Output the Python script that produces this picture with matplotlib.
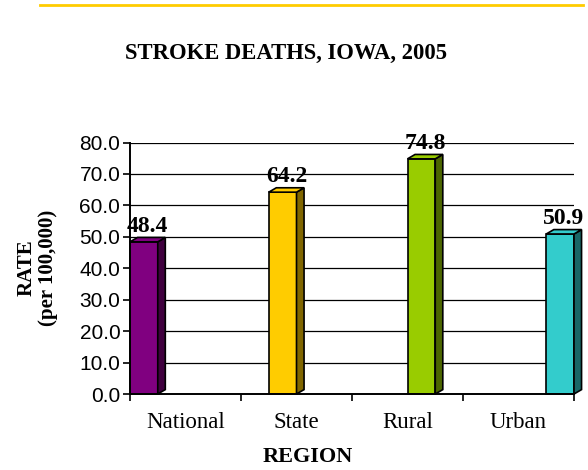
import matplotlib
matplotlib.use("Agg")
import matplotlib.pyplot as plt
from matplotlib.patches import Polygon, Rectangle
from matplotlib.lines import Line2D

# Chart data
regions = ["National", "State", "Rural", "Urban"]
rates = [48.4, 64.2, 74.8, 50.9]
front_colors = ["#800080", "#FFCC00", "#99CC00", "#33CCCC"]
side_colors = ["#40003F", "#806600", "#4C6600", "#196666"]
y_ticks = [0, 10, 20, 30, 40, 50, 60, 70, 80]


def draw_bar_3d(ax, x, w, h, front, side, dx, dy):
    """Excel-style bar with a little depth: front, side and top faces."""
    ax.add_patch(Rectangle((x, 0), w, h, facecolor=front, edgecolor="black",
                           linewidth=1.2, zorder=3, clip_on=False))
    ax.add_patch(Polygon([(x + w, 0), (x + w + dx, dy), (x + w + dx, h + dy), (x + w, h)],
                         closed=True, facecolor=side, edgecolor="black",
                         linewidth=1.2, zorder=3, clip_on=False))
    ax.add_patch(Polygon([(x, h), (x + dx, h + dy), (x + w + dx, h + dy), (x + w, h)],
                         closed=True, facecolor=front, edgecolor="black",
                         linewidth=1.2, zorder=3, clip_on=False))


def make_chart():
    fig = plt.figure(figsize=(5.88, 4.70), dpi=100)
    ax = fig.add_axes([0.2211, 0.1617, 0.7551, 0.5351])

    # yellow rule at the very top
    fig.add_artist(Line2D([40 / 588, 583 / 588], [0.989, 0.989], color="#FFCC00",
                          linewidth=2.0, transform=fig.transFigure))

    n = len(regions)
    slot = 1.0 / n  # clustered bars, one series per category
    dx = 0.068
    dy = 1.4

    ax.set_xlim(-0.5, n - 0.5)
    ax.set_ylim(0, 80)

    for i, (v, fc, sc) in enumerate(zip(rates, front_colors, side_colors)):
        x0 = i - 0.5 + slot * i
        draw_bar_3d(ax, x0, slot, v, fc, sc, dx, dy)
        ax.text(x0 + slot / 2 + dx / 2, v + dy + 0.2, f"{v:.1f}", ha="center", va="bottom",
                fontsize=17, fontweight="bold", family="Liberation Serif", zorder=4,
                clip_on=False)

    # gridlines
    for t in y_ticks[1:]:
        ax.axhline(t, color="black", linewidth=0.9, zorder=1)

    ax.set_yticks(y_ticks)
    ax.set_yticklabels([f"{t:.1f}" for t in y_ticks], family="Liberation Sans", fontsize=15)
    ax.set_xticks([i - 0.5 for i in range(n + 1)])
    ax.set_xticklabels([])
    ax.set_xticks(range(n), minor=True)
    ax.set_xticklabels(regions, minor=True, family="Liberation Serif", fontsize=16.5)
    ax.tick_params(axis="x", which="minor", length=0, pad=13)
    ax.tick_params(axis="x", which="major", length=5, width=1.2, direction="out")
    ax.tick_params(axis="y", length=5, width=1.2, direction="out", pad=2)

    for s in ["top", "right"]:
        ax.spines[s].set_visible(False)
    for s in ["left", "bottom"]:
        ax.spines[s].set_linewidth(1.4)
        ax.spines[s].set_zorder(5)

    fig.text(0.486, 0.887, "STROKE DEATHS, IOWA, 2005", ha="center", va="center",
             fontsize=16.3, fontweight="bold", family="Liberation Serif")
    fig.text(37 / 588, 1 - 268 / 470, "RATE\n(per 100,000)", ha="center", va="center",
             rotation=90, fontsize=15, fontweight="bold", family="Liberation Serif",
             multialignment="center", linespacing=1.1)
    fig.text(308 / 588, 1 - 457 / 470, "REGION", ha="center", va="center",
             fontsize=16, fontweight="bold", family="Liberation Serif")

    fig.savefig("out.png", dpi=100)


if __name__ == "__main__":
    make_chart()
